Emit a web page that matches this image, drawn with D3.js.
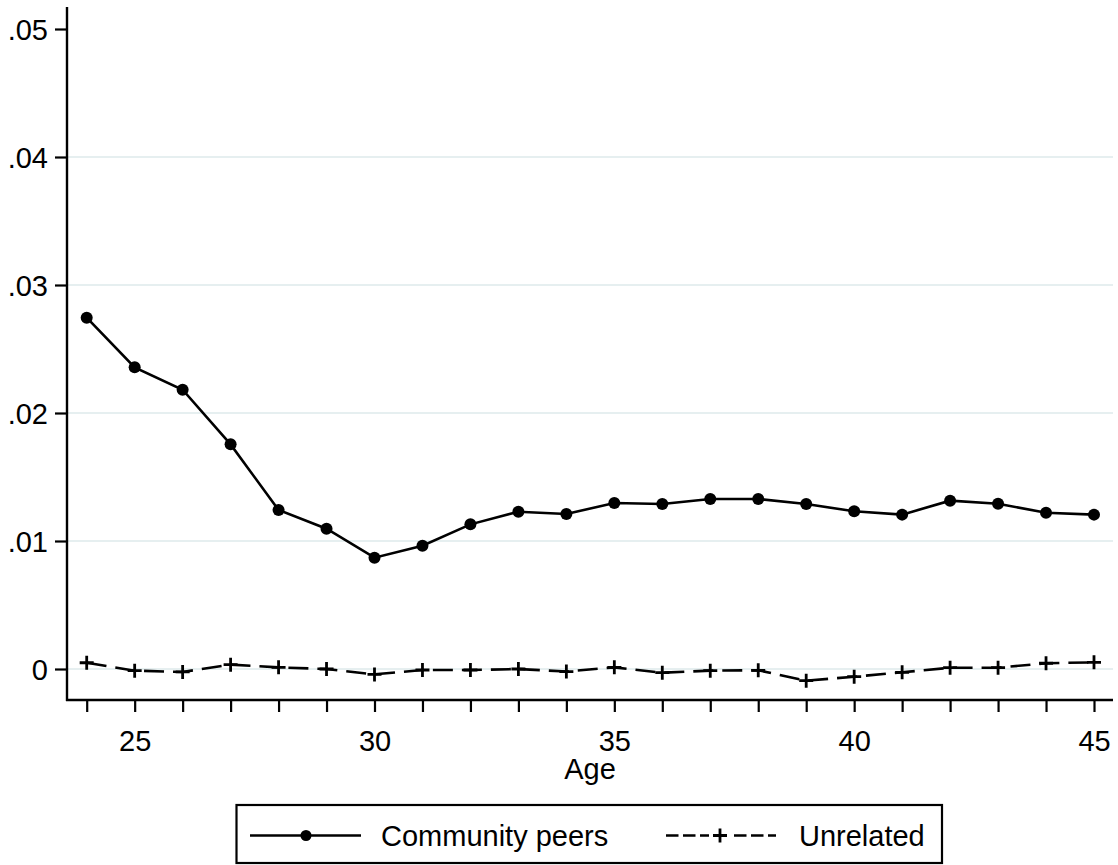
<!DOCTYPE html>
<html>
<head>
<meta charset="utf-8">
<script src="https://cdn.jsdelivr.net/npm/d3@7"></script>
<style>
  html, body { margin: 0; padding: 0; background: #fff; }
  svg { display: block; }
  text { font-family: "Liberation Sans", Arial, sans-serif; fill: #000; }
</style>
</head>
<body>
<svg id="chart" width="1118" height="865"></svg>
<script>
// Age grid
const ages = [24,25,26,27,28,29,30,31,32,33,34,35,36,37,38,39,40,41,42,43,44,45];

// Estimated effects by age
const communityPeers = [0.02745,0.02357,0.02182,0.01755,0.01242,0.01096,0.00870,0.00963,0.01130,0.01229,0.01211,
                        0.01297,0.01289,0.01328,0.01328,0.01289,0.01232,0.01206,0.01315,0.01291,0.01221,0.01206];
const unrelated = [0.00049,-0.00013,-0.00023,0.00034,0.00013,0.00000,-0.00042,-0.00008,-0.00008,0.00000,-0.00020,
                   0.00013,-0.00029,-0.00013,-0.00010,-0.00091,-0.00060,-0.00026,0.00010,0.00010,0.00045,0.00052];

// Axis ticks and labels
const yTicks = [0, 0.01, 0.02, 0.03, 0.04, 0.05];
const yTickLabels = ["0", ".01", ".02", ".03", ".04", ".05"];
const xLabelTicks = [25, 30, 35, 40, 45];
const xTitle = "Age";
const seriesNames = ["Community peers", "Unrelated"];

const svg = d3.select("#chart");

const x = d3.scaleLinear().domain([24, 45]).range([86.7, 1094]);
const y = d3.scaleLinear().domain([0, 0.05]).range([669, 29]);

const axisX = 67, axisY = 700, plotTop = 7, plotRight = 1113;
const FONT = 29;
const LW = 2.6;

// Horizontal grid lines
svg.append("g")
  .selectAll("line")
  .data(yTicks.filter(t => t < 0.05))
  .join("line")
  .attr("x1", axisX).attr("x2", plotRight)
  .attr("y1", d => y(d)).attr("y2", d => y(d))
  .attr("stroke", "#e6eff0").attr("stroke-width", 2.2);

// Y axis
const yAxis = d3.axisLeft(y).tickValues(yTicks).tickSize(12)
  .tickFormat((d, i) => yTickLabels[i]);
const gy = svg.append("g").attr("transform", `translate(${axisX},0)`).call(yAxis);
gy.select(".domain").remove();
gy.selectAll(".tick line").attr("stroke", "#000").attr("stroke-width", 2.2);
gy.selectAll(".tick text")
  .attr("x", -19).attr("dy", "0.36em")
  .style("font-size", FONT + "px")
  .attr("fill", "#000");

// X axis
const xAxis = d3.axisBottom(x).tickValues(ages).tickSize(12)
  .tickFormat(d => xLabelTicks.includes(d) ? String(d) : "");
const gx = svg.append("g").attr("transform", `translate(0,${axisY})`).call(xAxis);
gx.select(".domain").remove();
gx.selectAll(".tick line").attr("stroke", "#000").attr("stroke-width", 2.2);
gx.selectAll(".tick text")
  .attr("y", 51).attr("dy", 0)
  .style("font-size", FONT + "px")
  .attr("fill", "#000");

// Axis frame lines
svg.append("line").attr("x1", axisX).attr("x2", axisX).attr("y1", plotTop).attr("y2", axisY + 1)
  .attr("stroke", "#000").attr("stroke-width", 2.4);
svg.append("line").attr("x1", axisX - 1).attr("x2", plotRight).attr("y1", axisY).attr("y2", axisY)
  .attr("stroke", "#000").attr("stroke-width", 2.4);

// X axis title
svg.append("text").attr("x", 590).attr("y", 779)
  .attr("text-anchor", "middle").style("font-size", FONT + "px").text(xTitle);

const line = d3.line().x((d, i) => x(ages[i])).y(d => y(d));

// Unrelated: dashed line with plus markers
svg.append("path").datum(unrelated)
  .attr("d", line).attr("fill", "none")
  .attr("stroke", "#000").attr("stroke-width", LW)
  .attr("stroke-dasharray", "20,9");
const plus = 7;
svg.append("g").selectAll("path")
  .data(unrelated)
  .join("path")
  .attr("d", (d, i) => {
    const cx = x(ages[i]), cy = y(d);
    return `M${cx - plus},${cy}H${cx + plus}M${cx},${cy - plus}V${cy + plus}`;
  })
  .attr("stroke", "#000").attr("stroke-width", 2.8);

// Community peers: solid line with filled circles
svg.append("path").datum(communityPeers)
  .attr("d", line).attr("fill", "none")
  .attr("stroke", "#000").attr("stroke-width", LW);
svg.append("g").selectAll("circle")
  .data(communityPeers)
  .join("circle")
  .attr("cx", (d, i) => x(ages[i])).attr("cy", d => y(d))
  .attr("r", 6).attr("fill", "#000");

// Legend
const lg = svg.append("g");
lg.append("rect").attr("x", 236.5).attr("y", 805).attr("width", 705.5).attr("height", 58)
  .attr("fill", "#fff").attr("stroke", "#000").attr("stroke-width", 2.2);
const ly = 835.5;
lg.append("line").attr("x1", 250).attr("x2", 361).attr("y1", ly).attr("y2", ly)
  .attr("stroke", "#000").attr("stroke-width", LW);
lg.append("circle").attr("cx", 306).attr("cy", ly).attr("r", 5.5).attr("fill", "#000");
lg.append("text").attr("x", 381).attr("y", ly + 10.5).style("font-size", FONT + "px").text(seriesNames[0]);

lg.append("line").attr("x1", 666).attr("x2", 776).attr("y1", ly).attr("y2", ly)
  .attr("stroke", "#000").attr("stroke-width", LW)
  .attr("stroke-dasharray", "12.5,4.5");
lg.append("rect").attr("x", 709).attr("y", ly - 3).attr("width", 22).attr("height", 6).attr("fill", "#fff");
lg.append("path")
  .attr("d", `M${720 - plus},${ly}H${720 + plus}M720,${ly - plus}V${ly + plus}`)
  .attr("stroke", "#000").attr("stroke-width", 2.8);
lg.append("text").attr("x", 799).attr("y", ly + 10.5).style("font-size", FONT + "px").text(seriesNames[1]);
</script>
</body>
</html>
